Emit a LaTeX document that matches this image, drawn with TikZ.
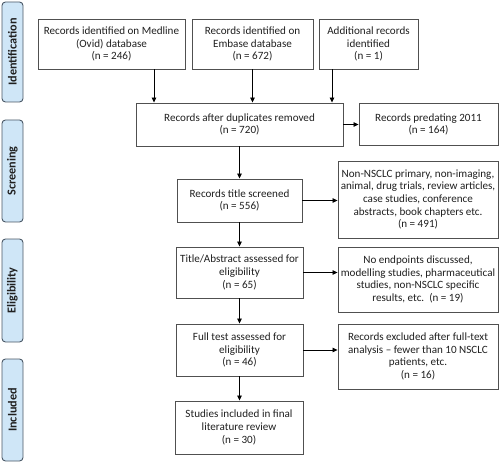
\documentclass[tikz,border=0pt]{standalone}
\usepackage{fontspec}
\setmainfont{Carlito}
\usetikzlibrary{arrows.meta}
\definecolor{boxline}{HTML}{505050}
\definecolor{sidefill}{HTML}{CFE6F7}
\definecolor{sideline}{HTML}{4A5866}
\definecolor{txt}{HTML}{202020}
\begin{document}
\begin{tikzpicture}[x=1pt,y=-1pt,
  box/.style={draw=boxline,line width=0.9pt,fill=white,inner sep=0pt,align=center,
    text=txt,font=\fontsize{11.1}{12.6}\selectfont},
  side/.style={draw=sideline,line width=0.9pt,fill=sidefill,rounded corners=3.5pt,
    minimum width=21pt,inner sep=0pt},
  sidetxt/.style={rotate=90,font=\bfseries\fontsize{12.2}{13}\selectfont,text=txt},
  arr/.style={draw=black,line width=0.8pt,-{Triangle[length=5pt,width=4.5pt]}}]
\useasboundingbox (0,0) rectangle (500,462);
% side labels
\node[side,minimum height=100pt] (sid) at (12.5,52) {};
\node[sidetxt] (sidt) at (sid.center) {Identification};
\node[side,minimum height=102pt] (ssc) at (12.5,171) {};
\node[sidetxt] (ssct) at (ssc.center) {Screening};
\node[side,minimum height=103pt] (sel) at (12.5,290.5) {};
\node[sidetxt] (selt) at (sel.center) {Eligibility};
\node[side,minimum height=102pt] (sin) at (12.5,410) {};
\node[sidetxt] (sint) at (sin.center) {Included};
% boxes
\node[box,minimum width=147pt,minimum height=50pt] (med) at (111.5,44) {Records identified on Medline\\(Ovid) database\\(n = 246)};
\node[box,minimum width=121pt,minimum height=50pt] (emb) at (252.5,44) {Records identified on\\Embase database\\(n = 672)};
\node[box,minimum width=99pt,minimum height=50pt] (add) at (368.5,44) {Additional records\\identified\\(n = 1)};
\node[box,minimum width=207pt,minimum height=43pt] (dup) at (239.5,124.5) {Records after duplicates removed\\(n = 720)};
\node[box,minimum width=139pt,minimum height=42pt] (pre) at (428.5,124.5) {Records predating 2011\\(n = 164)};
\node[box,minimum width=125pt,minimum height=43pt] (scr) at (239.5,200.5) {Records title screened\\(n = 556)};
\node[box,minimum width=160pt,minimum height=77pt] (nonn) at (418,199.5) {Non-NSCLC primary, non-imaging,\\animal, drug trials, review articles,\\case studies, conference\\abstracts, book chapters etc.\\(n = 491)};
\node[box,minimum width=127pt,minimum height=51pt] (tab) at (239.5,272.5) {Title/Abstract assessed for\\eligibility\\(n = 65)};
\node[box,minimum width=160pt,minimum height=65pt] (noend) at (418,279.5) {No endpoints discussed,\\modelling studies, pharmaceutical\\studies, non-NSCLC specific\\results, etc.\ \ (n = 19)};
\node[box,minimum width=127pt,minimum height=52pt] (full) at (239.5,350) {Full test assessed for\\eligibility\\(n = 46)};
\node[box,minimum width=160pt,minimum height=65pt] (exc) at (418,356.5) {Records excluded after full-text\\analysis – fewer than 10 NSCLC\\patients, etc.\\(n = 16)};
\node[box,minimum width=128pt,minimum height=53pt] (stu) at (239,427.5) {Studies included in final\\literature review\\(n = 30)};
% connectors
\coordinate (c1) at (154,0);
\coordinate (c3) at (332,0);
\draw[arr] (med.south -| c1) -- (dup.north -| c1);
\draw[arr] (emb.south) -- (emb.south |- dup.north);
\draw[arr] (add.south -| c3) -- (dup.north -| c3);
\draw[arr] (dup.east) -- (pre.west |- dup.east);
\draw[arr] (dup.south) -- (scr.north);
\draw[arr] (scr.east) -- (nonn.west |- scr.east);
\draw[arr] (scr.south) -- (tab.north);
\draw[arr] (tab.east) -- (noend.west |- tab.east);
\draw[arr] (tab.south) -- (full.north);
\draw[arr] (full.east) -- (exc.west |- full.east);
\draw[arr] (full.south) -- (stu.north -| full.south);
\end{tikzpicture}
\end{document}
